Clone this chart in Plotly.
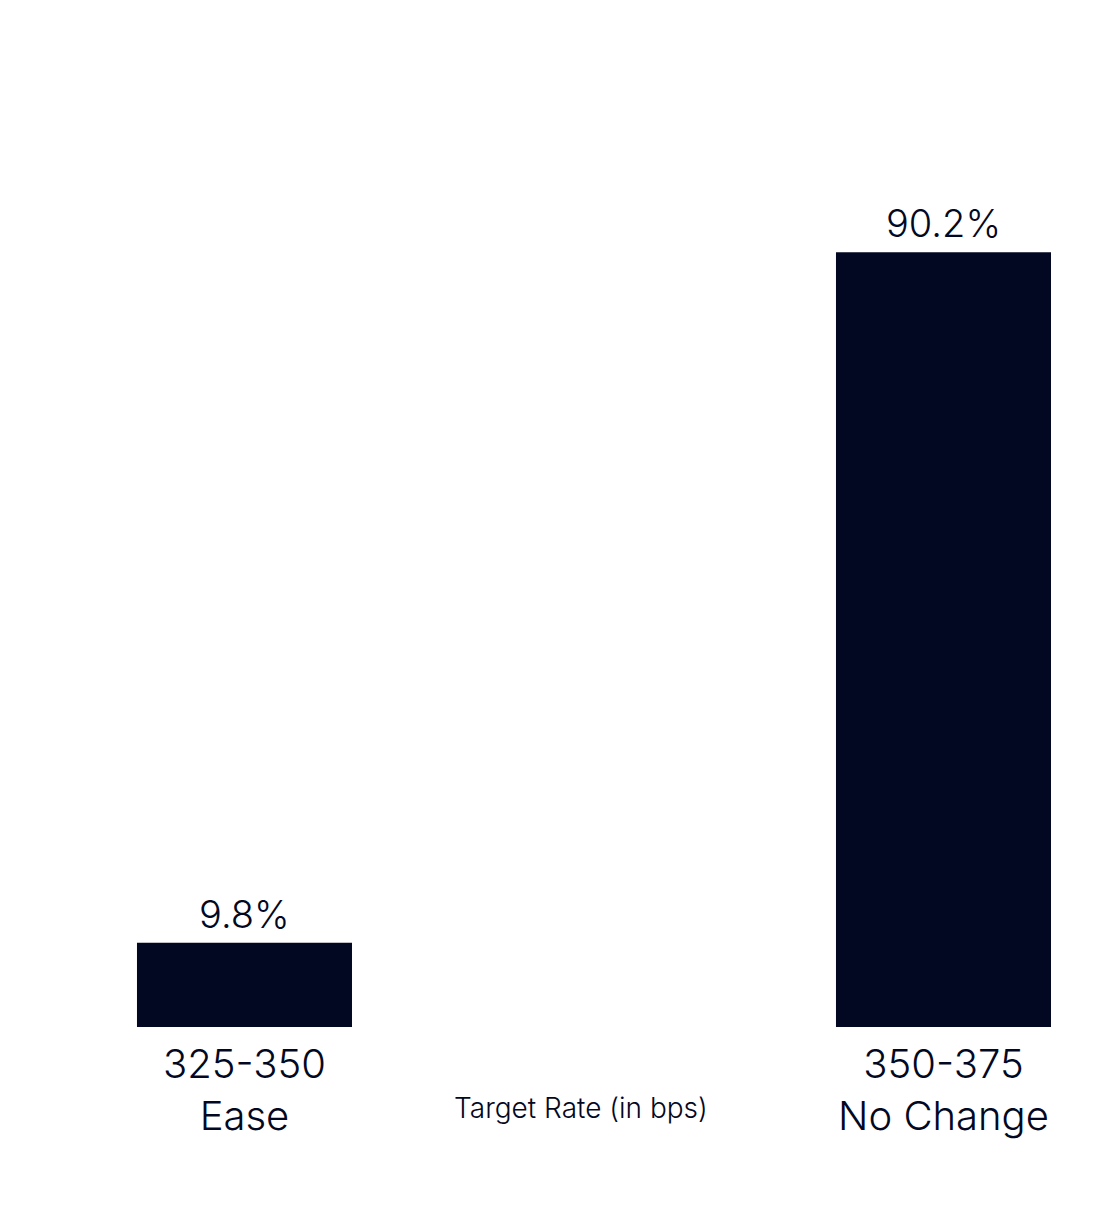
import plotly.graph_objects as go

categories = ["325-350<br>Ease", "350-375<br>No Change"]
values = [9.8, 90.2]
labels = ["9.8%", "90.2%"]

COLOR = "#030822"
FONT = "Inter"

fig = go.Figure()
fig.add_trace(go.Bar(
    x=categories,
    y=values,
    width=0.3076,
    marker=dict(color=COLOR, line=dict(width=0)),
    hoverinfo="skip",
))

for c, v, t in zip(categories, values, labels):
    fig.add_annotation(
        x=c, y=v, xref="x", yref="y",
        text=t, showarrow=False,
        xanchor="center", yanchor="bottom",
        yshift=4,
        font=dict(size=38, color=COLOR, family=FONT, weight=300),
    )

fig.add_annotation(
    text="Target Rate (in bps)",
    xref="paper", yref="paper",
    x=(581 - 100) / 990, y=-(1108 - 1027) / 859,
    xanchor="center", yanchor="middle",
    showarrow=False,
    font=dict(size=28, color=COLOR, family=FONT, weight=300),
)

fig.update_layout(
    width=1106, height=1216,
    margin=dict(l=92, r=24, t=160, b=197),
    paper_bgcolor="white",
    plot_bgcolor="white",
    showlegend=False,
    font=dict(family=FONT, color=COLOR),
    xaxis=dict(
        range=[-0.2067, 1.2096],
        showgrid=False, zeroline=False, showline=False,
        ticks="", ticklabelstandoff=10,
        tickfont=dict(size=40, family=FONT, color=COLOR, weight=300),
    ),
    yaxis=dict(
        range=[0, 100],
        visible=False,
    ),
)

fig.write_html("out.html")
